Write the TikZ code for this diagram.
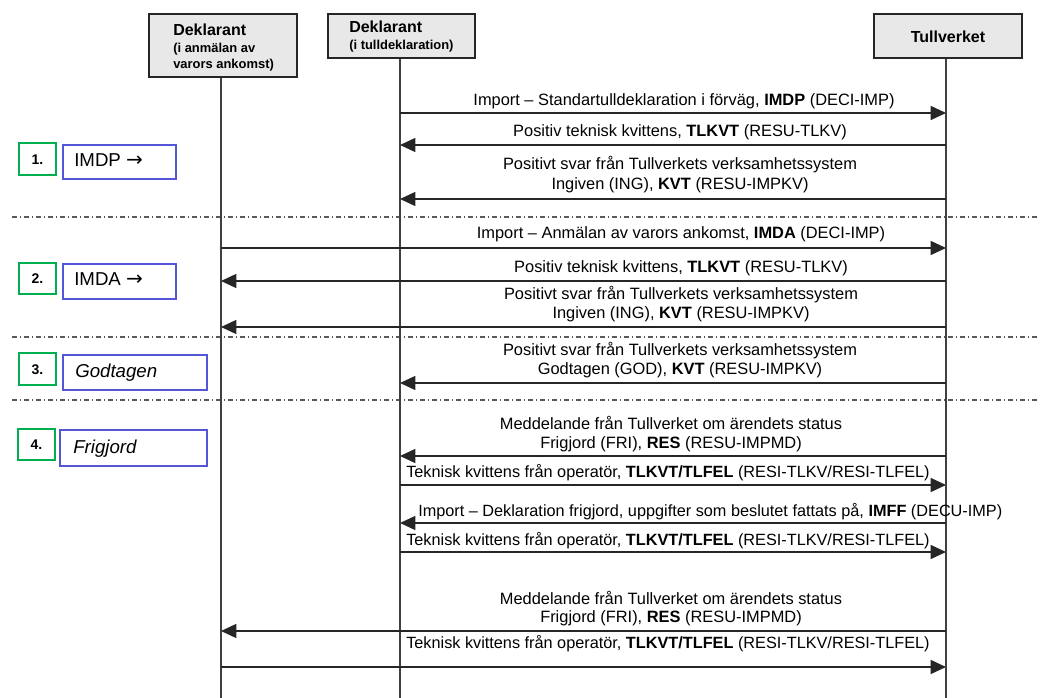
\documentclass[tikz,border=0pt]{standalone}
\usepackage{fontspec}
\setmainfont{Liberation Sans}
\newfontfamily\symfont{DejaVu Sans}
\usetikzlibrary{arrows.meta}
\definecolor{stepgreen}{RGB}{0,176,80}
\definecolor{stepblue}{RGB}{85,85,215}
\begin{document}
\begin{tikzpicture}[x=0.75pt,y=-0.75pt,
  hdr/.style={draw=black!85, line width=1.6pt, fill=black!9, inner sep=0pt},
  life/.style={draw=black!75, line width=1pt},
  msg/.style={draw=black!85, line width=1.1pt, -{Triangle[length=11.5pt,width=10.5pt]}},
  sep/.style={draw=black!65, line width=0.8pt, dash pattern=on 4pt off 2pt on 1pt off 2pt},
  numbox/.style={draw=stepgreen, line width=1.5pt, minimum width=27.75pt, minimum height=24pt, inner sep=0pt, font=\fontsize{10.5}{12}\selectfont\bfseries},
  stepbox/.style={draw=stepblue, line width=0.9pt, inner sep=0pt},
  steptext/.style={anchor=base west, inner sep=0pt, font=\fontsize{14}{16}\selectfont},
  lbl/.style={anchor=base, inner sep=0pt, font=\fontsize{12.3}{15}\selectfont},
  lbll/.style={anchor=base west, inner sep=0pt, font=\fontsize{12.2}{15}\selectfont},
  hbig/.style={anchor=base west, inner sep=0pt, font=\fontsize{12}{14}\selectfont\bfseries},
  hsmall/.style={anchor=base west, inner sep=0pt, font=\fontsize{9.7}{12}\selectfont\bfseries},
]
\useasboundingbox (0,0) rectangle (1040,698);

% separators
\draw[sep] (12,217) -- (1040,217);
\draw[sep] (12,337) -- (1040,337);
\draw[sep] (12,400) -- (1040,400);

% header boxes
\node[hdr, minimum width=111pt, minimum height=47.25pt] (h1) at (223,45.5) {};
\node[hdr, minimum width=110.25pt, minimum height=33pt] (h2) at (401.5,36) {};
\node[hdr, minimum width=111pt, minimum height=33pt] (h3) at (948,36) {};
\node[hbig] (h1a) at (173,36) {Deklarant};
\node[hsmall] (h1b) at (173,53) {(i anmälan av};
\node[hsmall] (h1c) at (173,69) {varors ankomst)};
\node[hbig] (h2a) at (349,33) {Deklarant};
\node[hsmall] (h2b) at (349,50) {(i tulldeklaration)};
\node[hbig, anchor=base] (h3a) at (948,43) {Tullverket};

% lifelines
\coordinate (A) at (221,0);
\coordinate (B) at (400,0);
\coordinate (C) at (946,0);
\draw[life] (A |- h1.south) -- (A |- 0,698);
\draw[life] (B |- h2.south) -- (B |- 0,698);
\draw[life] (C |- h3.south) -- (C |- 0,698);

% step boxes
\node[numbox] (n1) at (37.5,159.5) {1.};
\node[stepbox, minimum width=84.75pt, minimum height=25.5pt] (s1) at (119.5,162) {};
\node[steptext] (t1) at (74,167) {IMDP {\symfont\fontsize{15}{16}\selectfont →}};
\node[numbox, minimum height=23.25pt] (n2) at (37.5,278.5) {2.};
\node[stepbox, minimum width=84.75pt, minimum height=26.25pt] (s2) at (119.5,281.5) {};
\node[steptext] (t2) at (74,286) {IMDA {\symfont\fontsize{15}{16}\selectfont →}};
\node[numbox] (n3) at (37.5,369.5) {3.};
\node[stepbox, minimum width=108pt, minimum height=26.25pt] (s3) at (135,372.5) {};
\node[steptext] (t3) at (75,378) {\itshape Godtagen};
\node[numbox, minimum height=23.25pt] (n4) at (36.5,444.5) {4.};
\node[stepbox, minimum width=110.25pt, minimum height=27pt] (s4) at (133.5,448) {};
\node[steptext] (t4) at (73,454) {\itshape Frigjord};

% messages
\draw[msg] (B |- 0,113) -- (C |- 0,113);
\node[lbl] (m1) at (684,106) {Import – Standartulldeklaration i förväg, \textbf{IMDP} (DECI-IMP)};

\draw[msg] (C |- 0,145) -- (B |- 0,145);
\node[lbl] (m2) at (680,137) {Positiv teknisk kvittens, \textbf{TLKVT} (RESU-TLKV)};

\draw[msg] (C |- 0,199) -- (B |- 0,199);
\node[lbl] (m3a) at (680,170) {Positivt svar från Tullverkets verksamhetssystem};
\node[lbl] (m3b) at (680,190) {Ingiven (ING), \textbf{KVT} (RESU-IMPKV)};

\draw[msg] (A |- 0,248) -- (C |- 0,248);
\node[lbl] (m4) at (681,239) {Import – Anmälan av varors ankomst, \textbf{IMDA} (DECI-IMP)};

\draw[msg] (C |- 0,281) -- (A |- 0,281);
\node[lbl] (m5) at (681,273) {Positiv teknisk kvittens, \textbf{TLKVT} (RESU-TLKV)};

\draw[msg] (C |- 0,327) -- (A |- 0,327);
\node[lbl] (m6a) at (681,300) {Positivt svar från Tullverkets verksamhetssystem};
\node[lbl] (m6b) at (681,319) {Ingiven (ING), \textbf{KVT} (RESU-IMPKV)};

\draw[msg] (C |- 0,383) -- (B |- 0,383);
\node[lbl] (m7a) at (680,356) {Positivt svar från Tullverkets verksamhetssystem};
\node[lbl] (m7b) at (680,375) {Godtagen (GOD), \textbf{KVT} (RESU-IMPKV)};

\draw[msg] (C |- 0,456) -- (B |- 0,456);
\node[lbl] (m8a) at (671,430) {Meddelande från Tullverket om ärendets status};
\node[lbl] (m8b) at (671,449) {Frigjord (FRI), \textbf{RES} (RESU-IMPMD)};

\draw[msg] (B |- 0,485) -- (C |- 0,485);
\node[lbll] (m9) at (406,478) {Teknisk kvittens från operatör, \textbf{TLKVT/TLFEL} (RESI-TLKV/RESI-TLFEL)};

\draw[msg] (C |- 0,523) -- (B |- 0,523);
\node[lbll] (m10) at (418,517) {Import – Deklaration frigjord, uppgifter som beslutet fattats på, \textbf{IMFF} (DECU-IMP)};

\draw[msg] (B |- 0,552) -- (C |- 0,552);
\node[lbll] (m11) at (406,546) {Teknisk kvittens från operatör, \textbf{TLKVT/TLFEL} (RESI-TLKV/RESI-TLFEL)};

\draw[msg] (C |- 0,631) -- (A |- 0,631);
\node[lbl] (m12a) at (671,605) {Meddelande från Tullverket om ärendets status};
\node[lbl] (m12b) at (671,623) {Frigjord (FRI), \textbf{RES} (RESU-IMPMD)};

\draw[msg] (A |- 0,667) -- (C |- 0,667);
\node[lbll] (m13) at (406,648) {Teknisk kvittens från operatör, \textbf{TLKVT/TLFEL} (RESI-TLKV/RESI-TLFEL)};
\end{tikzpicture}
\end{document}
